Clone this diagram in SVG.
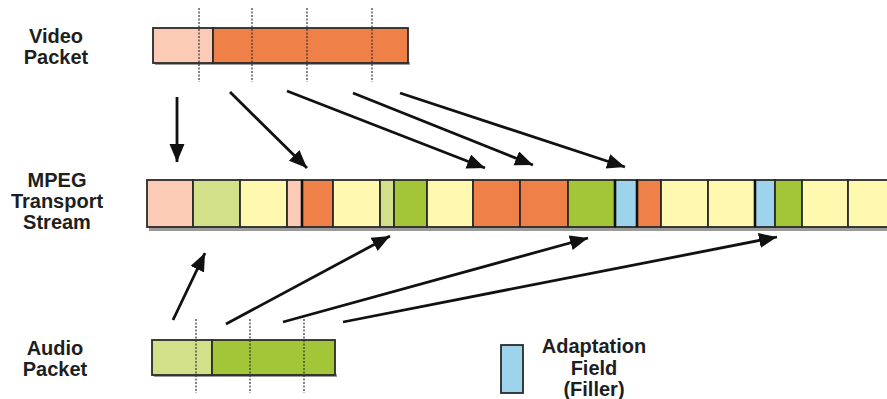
<svg xmlns="http://www.w3.org/2000/svg" width="887" height="399" viewBox="0 0 887 399">
<style>
.lbl{font-family:"Liberation Sans",Arial,sans-serif;font-weight:bold;font-size:20px;fill:#1e1e1e;text-anchor:middle}
.cell{stroke:#2a2a2a;stroke-width:1.8}
.pink{fill:#FCCBB5}.orange{fill:#EF8048}.lgreen{fill:#D2E08A}.green{fill:#A3C638}.yellow{fill:#FFF9B0}.blue{fill:#9DD4EC}
.dash{stroke:#333;stroke-width:1.2;stroke-dasharray:2,1.5;fill:none}
.arr{stroke:#111;stroke-width:2.8;fill:none;marker-end:url(#ah)}
.shadow{fill:#9a9a9a}
.thick{fill:none;stroke:#111;stroke-width:2.6}
</style>
<defs>
<marker id="ah" markerUnits="userSpaceOnUse" markerWidth="20" markerHeight="16" refX="18" refY="7.5" orient="auto">
<path d="M0,0 L18,7.5 L0,15 z" fill="#111"/>
</marker>
</defs>

<g id="video-packet">
<rect class="shadow" x="155" y="62" width="255" height="3"/>
<rect class="cell pink" x="153" y="28" width="60" height="35"/>
<rect class="cell orange" x="213" y="28" width="195" height="35"/>
<line class="dash" x1="199" y1="8" x2="199" y2="82"/>
<line class="dash" x1="252" y1="8" x2="252" y2="82"/>
<line class="dash" x1="307" y1="8" x2="307" y2="82"/>
<line class="dash" x1="372" y1="8" x2="372" y2="82"/>
<text class="lbl" x="56" y="43">Video</text>
<text class="lbl" x="56" y="64">Packet</text>
</g>

<g id="transport-stream">
<rect class="shadow" x="149" y="227" width="740" height="4"/>
<rect class="cell pink" x="147" y="180" width="46" height="47"/>
<rect class="cell lgreen" x="193" y="180" width="47" height="47"/>
<rect class="cell yellow" x="240" y="180" width="47" height="47"/>
<rect class="cell pink" x="287" y="180" width="15" height="47"/>
<rect class="cell orange" x="302" y="180" width="31" height="47"/>
<rect class="cell yellow" x="333" y="180" width="47" height="47"/>
<rect class="cell lgreen" x="380" y="180" width="14" height="47"/>
<rect class="cell green" x="394" y="180" width="33" height="47"/>
<rect class="cell yellow" x="427" y="180" width="46" height="47"/>
<rect class="cell orange" x="473" y="180" width="47" height="47"/>
<rect class="cell orange" x="520" y="180" width="48" height="47"/>
<rect class="cell green" x="568" y="180" width="47" height="47"/>
<rect class="cell blue" x="615" y="180" width="22" height="47"/>
<rect class="cell orange" x="637" y="180" width="24" height="47"/>
<rect class="cell yellow" x="661" y="180" width="47" height="47"/>
<rect class="cell yellow" x="708" y="180" width="47" height="47"/>
<rect class="cell blue" x="755" y="180" width="20" height="47"/>
<rect class="cell green" x="775" y="180" width="27" height="47"/>
<rect class="cell yellow" x="802" y="180" width="46" height="47"/>
<rect class="cell yellow" x="848" y="180" width="47" height="47"/>
<line class="thick" x1="302" y1="180" x2="302" y2="227"/>
<line class="thick" x1="615" y1="180" x2="615" y2="227"/>
<line class="thick" x1="637" y1="180" x2="637" y2="227"/>
<line class="thick" x1="755" y1="180" x2="755" y2="227"/>
<text class="lbl" x="57" y="187">MPEG</text>
<text class="lbl" x="57" y="208">Transport</text>
<text class="lbl" x="57" y="229">Stream</text>
</g>

<g id="audio-packet">
<rect class="shadow" x="154" y="374" width="183" height="3"/>
<rect class="cell lgreen" x="152" y="340" width="60" height="35"/>
<rect class="cell green" x="212" y="340" width="123" height="35"/>
<line class="dash" x1="196" y1="319" x2="196" y2="393"/>
<line class="dash" x1="250" y1="319" x2="250" y2="393"/>
<line class="dash" x1="304" y1="319" x2="304" y2="393"/>
<text class="lbl" x="55" y="355">Audio</text>
<text class="lbl" x="55" y="376">Packet</text>
</g>

<g id="legend">
<rect class="cell blue" x="501" y="345" width="22" height="48"/>
<text class="lbl" x="594" y="353">Adaptation</text>
<text class="lbl" x="594" y="375">Field</text>
<text class="lbl" x="594" y="396">(Filler)</text>
</g>

<g id="connectors">
<line class="arr" x1="177" y1="97" x2="177" y2="162"/>
<line class="arr" x1="230" y1="92" x2="307" y2="168"/>
<line class="arr" x1="287" y1="91" x2="485" y2="168"/>
<line class="arr" x1="353" y1="93" x2="533" y2="165"/>
<line class="arr" x1="400" y1="93" x2="625" y2="167"/>
<line class="arr" x1="173" y1="320" x2="205" y2="253"/>
<line class="arr" x1="226" y1="324" x2="390" y2="236"/>
<line class="arr" x1="283" y1="322" x2="588" y2="238"/>
<line class="arr" x1="343" y1="322" x2="777" y2="237"/>
</g>
</svg>
